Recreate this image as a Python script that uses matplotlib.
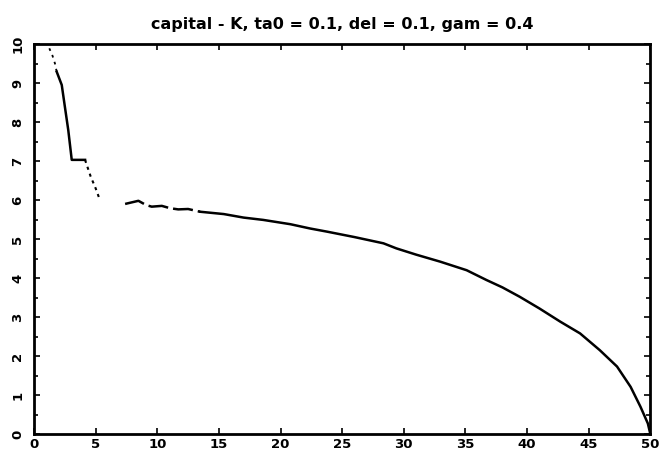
import numpy as np
import matplotlib
matplotlib.use('Agg')
import matplotlib.pyplot as plt
from matplotlib.ticker import MultipleLocator

# --- データ ---
# 初期の点線部分
k_start_t = [1.24, 1.5, 1.7, 1.84]
k_start_v = [9.89, 9.7, 9.5, 9.29]

# 実線部分 (急降下 + 平坦部)
k_drop_t = [1.84, 2.25, 2.5, 2.78, 3.06, 3.6, 4.14]
k_drop_v = [9.29, 8.95, 8.4, 7.79, 7.03, 7.03, 7.03]

# 点線部分
k_tail_t = [4.14, 4.6, 5.0, 5.3]
k_tail_v = [7.03, 6.6, 6.3, 6.04]

# 途切れがちな部分
k_broken_t = [7.39, 8.47, 9.1, 9.55, 10.37, 11.04, 11.7, 12.5, 13.47]
k_broken_v = [5.90, 5.98, 5.87, 5.83, 5.85, 5.79, 5.76, 5.77, 5.70]

# メインの曲線
k_main_t = [13.47, 15.4, 17.0, 18.6, 20.8, 22.4, 23.76, 26.0, 28.35, 29.4,
            31.0, 32.95, 35.1, 36.7, 38.0, 39.4, 41.0, 42.7, 44.3, 45.9,
            47.3, 48.4, 49.2, 49.8, 50.0]
k_main_v = [5.70, 5.64, 5.55, 5.49, 5.38, 5.27, 5.19, 5.05, 4.89, 4.76,
            4.60, 4.42, 4.20, 3.95, 3.76, 3.52, 3.22, 2.88, 2.58, 2.15,
            1.73, 1.21, 0.70, 0.27, 0.0]

title = 'capital - K, ta0 = 0.1, del = 0.1, gam = 0.4'
x_ticks = list(range(0, 51, 5))
y_ticks = list(range(0, 11))

fig = plt.figure(figsize=(6.67, 4.54), dpi=100)
ax = fig.add_axes([0.051, 0.044, 0.924, 0.859])

ax.plot(k_start_t, k_start_v, color='black', lw=1.3, ls=(0, (1.5, 2.5)))
ax.plot(k_drop_t, k_drop_v, color='black', lw=1.8)
ax.plot(k_tail_t, k_tail_v, color='black', lw=1.5, ls=(0, (1.5, 2.0)))
ax.plot(k_broken_t, k_broken_v, color='black', lw=1.8, ls=(0, (8, 2)))
ax.plot(k_main_t, k_main_v, color='black', lw=1.8)

ax.set_xlim(0, 50)
ax.set_ylim(0, 10)
ax.set_xticks(x_ticks)
ax.set_yticks(y_ticks)
ax.yaxis.set_minor_locator(MultipleLocator(0.5))

ax.tick_params(axis='both', which='both', direction='in', top=True, right=True,
               width=1.2, colors='black')
ax.tick_params(which='major', length=4)
ax.tick_params(which='minor', length=3)
ax.tick_params(axis='x', pad=3, labelsize=9.5)
ax.tick_params(axis='y', pad=7, labelsize=9.5, labelrotation=90)
for lab in ax.get_xticklabels() + ax.get_yticklabels():
    lab.set_fontweight('bold')
for lab in ax.get_yticklabels():
    lab.set_verticalalignment('center')

for sp in ax.spines.values():
    sp.set_linewidth(2.0)

ax.set_title(title, fontsize=11.5, fontweight='bold', pad=11)

fig.savefig('out.png', dpi=100)
